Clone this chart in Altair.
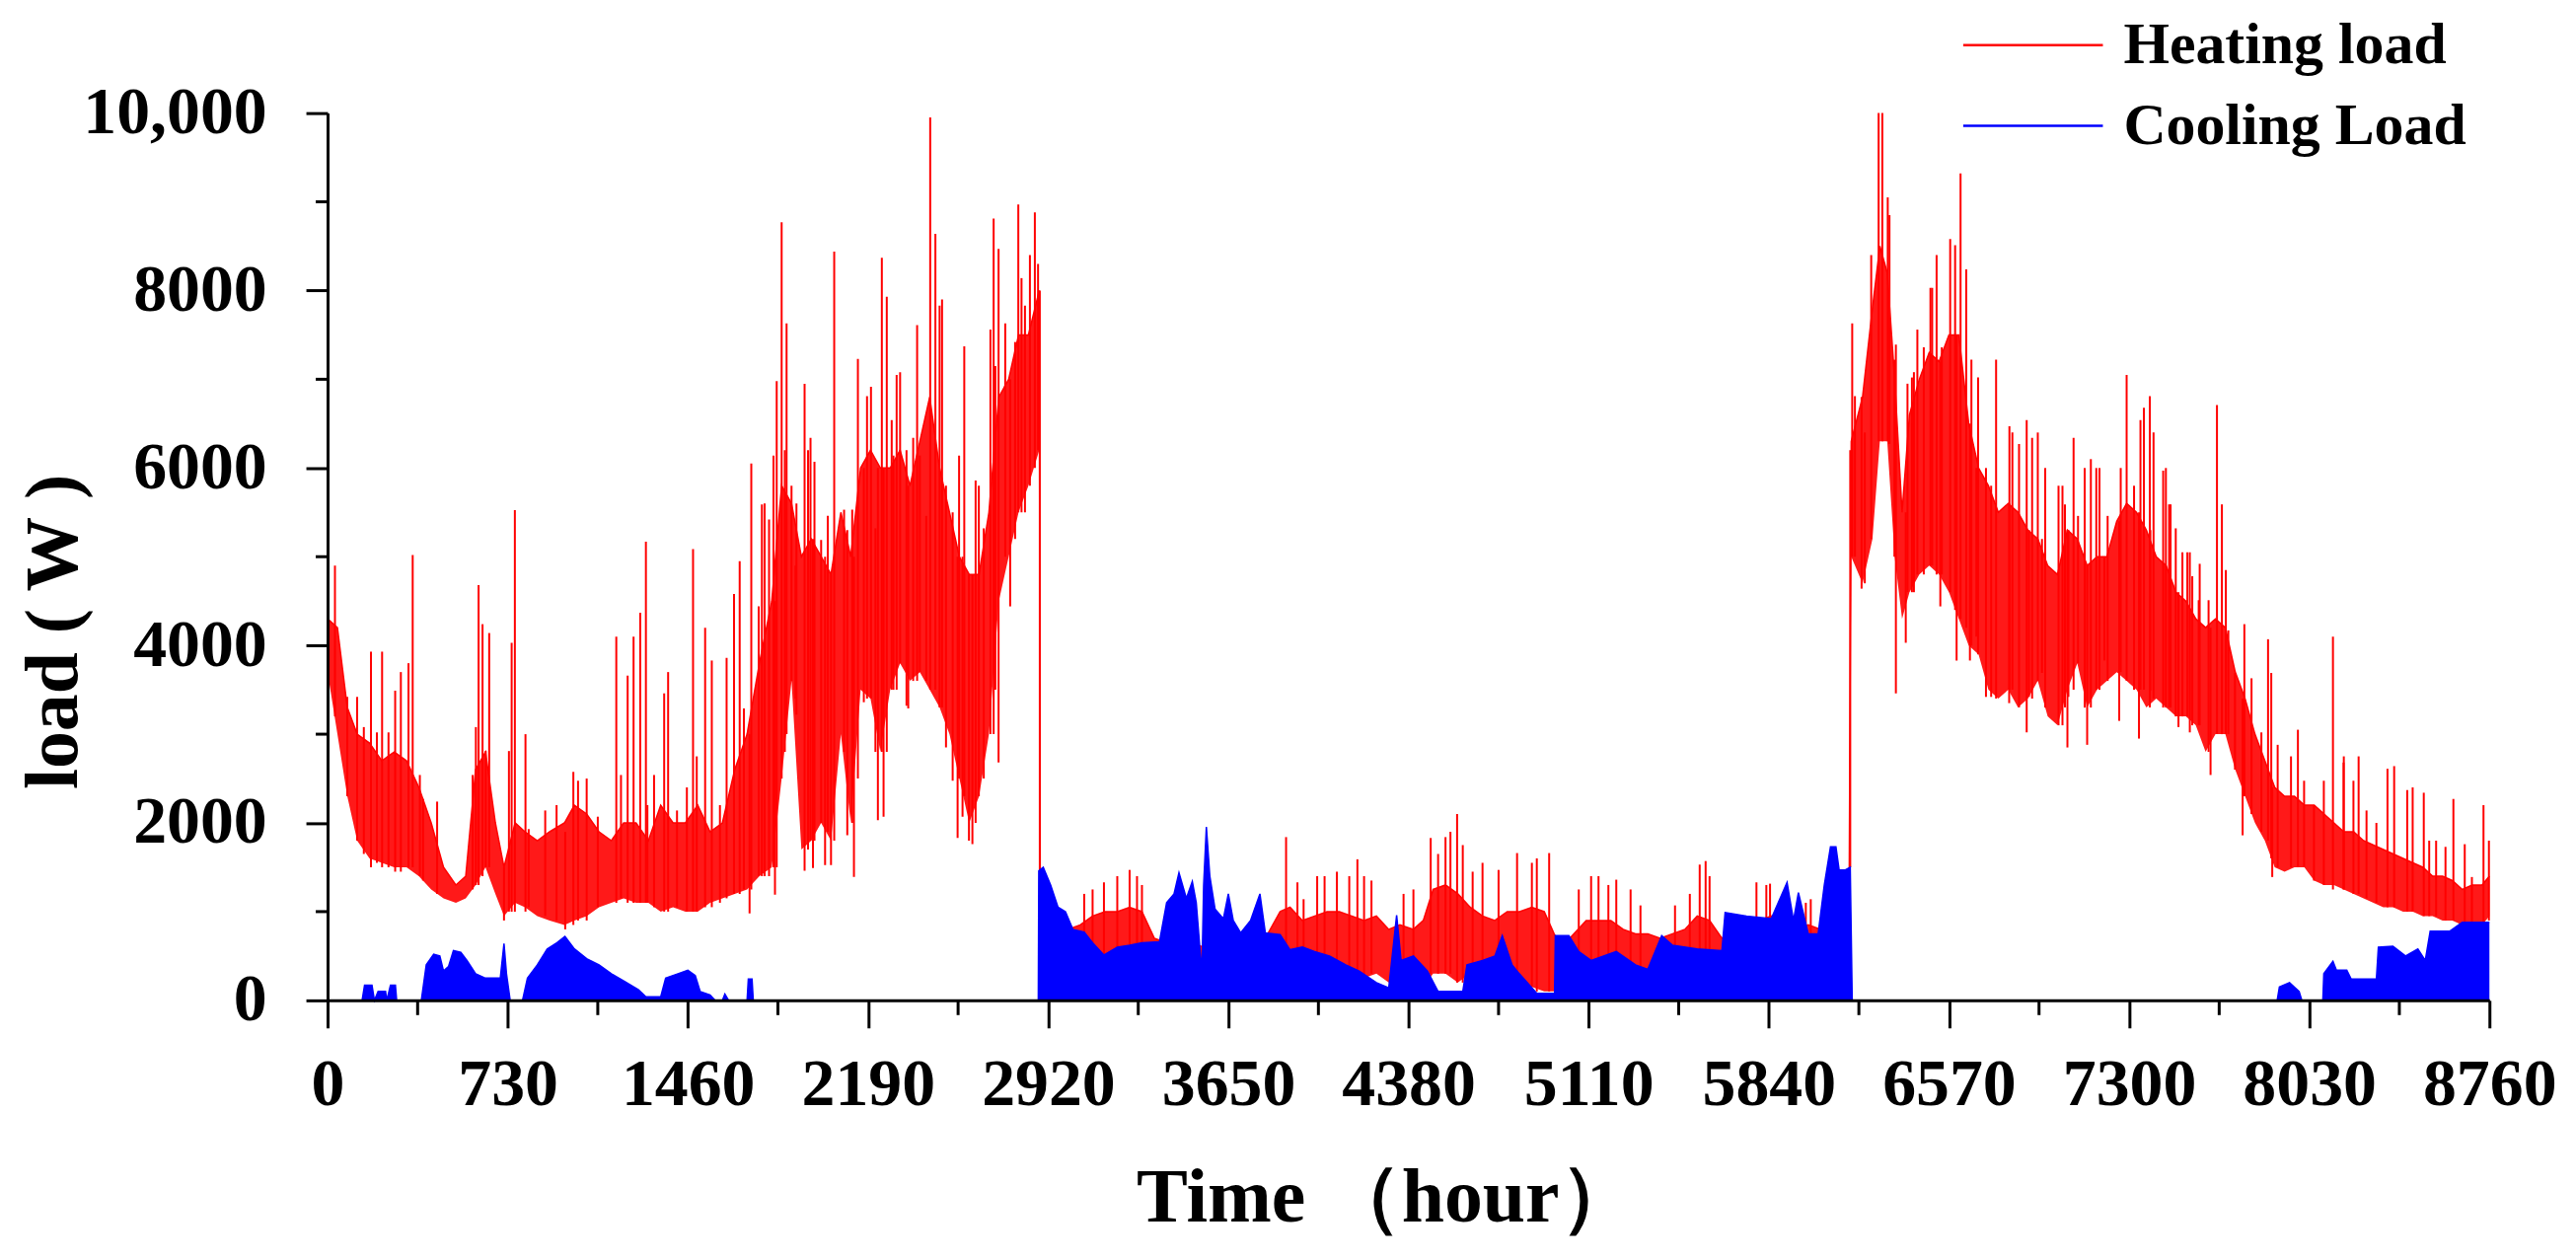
import altair as alt
import pandas as pd

# ---------------- data ----------------
x_major = [0, 730, 1460, 2190, 2920, 3650, 4380, 5110, 5840, 6570, 7300, 8030, 8760]
x_minor = [365, 1095, 1825, 2555, 3285, 4015, 4745, 5475, 6205, 6935, 7665, 8395]
y_major = [0, 2000, 4000, 6000, 8000, 10000]
y_minor = [1000, 3000, 5000, 7000, 9000]

series_names = ["Heating load", "Cooling Load"]
series_colors = ["#ff0000", "#0000ff"]

# dense core of the heating-load trace (lower / upper edge)
heat_band_t = [0, 40, 80, 120, 170, 220, 270, 320, 370, 420, 470, 520, 560, 600, 640, 680, 715, 760, 800, 850,
               900, 960, 1000, 1050, 1100, 1150, 1200, 1250, 1300, 1350, 1400, 1450, 1500, 1550, 1600, 1650,
               1700, 1750, 1800, 1840, 1880, 1920, 1960, 2000, 2040, 2080, 2120, 2160, 2200, 2240, 2280, 2320,
               2360, 2400, 2440, 2480, 2520, 2560, 2600, 2640, 2680, 2720, 2760, 2800, 2840, 2884, 2888, 2960,
               3000, 3050, 3100, 3150, 3200, 3250, 3300, 3350, 3400, 3500, 3600, 3700, 3800, 3860, 3900, 3950,
               4000, 4050, 4100, 4150, 4200, 4250, 4300, 4345, 4400, 4440, 4480, 4530, 4580, 4630, 4680, 4730,
               4780, 4830, 4880, 4930, 4970, 5000, 5050, 5100, 5150, 5200, 5250, 5300, 5350, 5400, 5450, 5500,
               5550, 5600, 5650, 5700, 5750, 5800, 5850, 5900, 5950, 6000, 6050, 6100, 6166, 6174, 6220, 6260,
               6290, 6320, 6350, 6380, 6410, 6450, 6490, 6530, 6570, 6610, 6650, 6690, 6730, 6770, 6810, 6850,
               6890, 6930, 6970, 7010, 7050, 7090, 7130, 7170, 7210, 7250, 7290, 7330, 7370, 7410, 7450, 7490,
               7530, 7570, 7610, 7650, 7690, 7730, 7770, 7810, 7850, 7890, 7930, 7970, 8010, 8050, 8090, 8130,
               8170, 8210, 8250, 8290, 8330, 8370, 8410, 8450, 8490, 8530, 8570, 8610, 8650, 8690, 8730, 8760]
heat_band_lo = [3700, 3000, 2300, 1800, 1600, 1550, 1500, 1500, 1400, 1250, 1150, 1100, 1150, 1300, 1500, 1200, 950, 1100, 1050, 950,
                900, 850, 900, 950, 1050, 1100, 1150, 1100, 1100, 1000, 1050, 1000, 1000, 1100, 1150, 1200,
                1250, 1400, 1500, 2500, 3600, 1700, 1800, 2000, 1800, 3000, 2000, 3500, 3400, 2800, 3500, 3800,
                3600, 3700, 3500, 3300, 3000, 2500, 2000, 2300, 3000, 4500, 5000, 5500, 5800, 6200, 700, 600,
                500, 500, 400, 450, 400, 400, 350, 400, 300, 300, 200, 200, 250, 300, 300, 250,
                300, 300, 300, 250, 250, 300, 200, 100, 100, 150, 300, 300, 200, 300, 250, 300,
                200, 200, 150, 100, 100, 100, 150, 150, 200, 150, 200, 200, 200, 250, 250, 300,
                300, 350, 400, 400, 450, 500, 500, 500, 500, 500, 500, 600, 800, 5000, 4700, 5200,
                6300, 6300, 5000, 4300, 4600, 4800, 4900, 4800, 4600, 4300, 4000, 3900, 3500, 3400, 3500, 3300,
                3400, 3600, 3200, 3100, 3500, 3800, 3300, 3500, 3600, 3700, 3600, 3500, 3300, 3400, 3300, 3200,
                3200, 3100, 2800, 3000, 3000, 2600, 2300, 2000, 1800, 1500, 1450, 1500, 1500, 1350, 1300, 1300,
                1250, 1200, 1150, 1100, 1050, 1050, 1000, 1000, 950, 950, 900, 900, 850, 850, 850, 950]
heat_band_hi = [4300, 4200, 3300, 3000, 2900, 2700, 2800, 2700, 2400, 2000, 1500, 1300, 1400, 2600, 2800, 2000, 1500, 2000, 1900, 1800,
                1900, 2000, 2200, 2100, 1900, 1800, 2000, 2000, 1800, 2200, 2000, 2000, 2200, 1900, 2000, 2600,
                3000, 3800, 4500, 5800, 5600, 5000, 5200, 5000, 4800, 5500, 5000, 6000, 6200, 6000, 6000, 6200,
                5800, 6300, 6800, 6000, 5500, 5000, 4800, 4800, 5500, 6800, 7000, 7500, 7500, 8000, 1000, 850,
                800, 850, 950, 1000, 1000, 1050, 1000, 700, 650, 650, 550, 650, 700, 1000, 1050, 900,
                950, 1000, 1000, 950, 900, 950, 800, 850, 800, 900, 1250, 1300, 1200, 1050, 950, 900,
                1000, 1000, 1050, 1000, 750, 600, 750, 900, 900, 900, 800, 750, 750, 700, 750, 800,
                950, 900, 700, 800, 850, 900, 950, 800, 800, 850, 800, 950, 1400, 6300, 6800, 7800,
                8500, 8200, 7000, 5500, 6600, 7000, 7300, 7200, 7500, 7500, 6500, 6000, 5800, 5500, 5600, 5500,
                5300, 5200, 4900, 4800, 5300, 5200, 4900, 5000, 5000, 5400, 5600, 5500, 5300, 5000, 4900, 4600,
                4500, 4300, 4200, 4300, 4200, 3700, 3400, 3000, 2700, 2400, 2300, 2300, 2200, 2200, 2100, 2000,
                1900, 1900, 1800, 1750, 1700, 1650, 1600, 1550, 1500, 1400, 1400, 1350, 1250, 1300, 1300, 1400]

# isolated heating spikes / dips: hour, bottom, top
heat_spike_t = [30, 176, 221, 274, 297, 328, 345, 444, 612, 628, 655, 715, 746, 759, 802, 963, 996, 1050,
                1170, 1216, 1240, 1267, 1290, 1364, 1380, 1481, 1530, 1557, 1617, 1647, 1670, 1687, 1710,
                1717, 1771, 1789, 1813, 1820, 1840, 1860, 1900, 1933, 1957, 1973, 2040, 2053, 2133, 2149,
                2186, 2202, 2230, 2246, 2266, 2306, 2320, 2346, 2389, 2442, 2463, 2490, 2580, 2613, 2626,
                2699, 2719, 2766, 2799, 2866, 2879, 2886,
                3066, 3100, 3146, 3200, 3250, 3280, 3300, 3884, 3930, 3955, 4010, 4040, 4090, 4140, 4173,
                4200, 4230, 4360, 4400, 4470, 4500, 4530, 4550, 4577, 4600, 4640, 4680, 4745, 4820, 4880,
                4900, 4950, 5070, 5120, 5150, 5190, 5222, 5280, 5320, 5460, 5520, 5560, 5584, 5600, 5790,
                5830, 5845, 5990, 6010, 6170,
                6178, 6255, 6285, 6300, 6322, 6355, 6395, 6420, 6442, 6495, 6520, 6575, 6617, 6640, 6655,
                6720, 6761, 6815, 6885, 6930, 7030, 7050, 7075, 7130, 7145, 7180, 7260, 7290, 7360, 7384,
                7438, 7468, 7500, 7536, 7630, 7656, 7676, 7760, 7767, 7863, 7880, 7984, 8126, 8170, 8230,
                8347, 8374, 8427, 8494, 8544, 8614, 8660, 8736, 8758]
heat_spike_lo = [3200, 1500, 1500, 1450, 1450, 1500, 1500, 1200, 1300, 1400, 1500, 900, 1000, 1000, 1000, 800, 850, 900,
                 1100, 1100, 1100, 1100, 1100, 1000, 1000, 1000, 1050, 1050, 1150, 1200, 1200, 1250, 980,
                 1250, 1400, 1400, 1190, 1500, 2500, 3000, 3220, 1460, 1800, 1800, 1525, 1800, 1390, 2500,
                 3400, 3400, 2030, 2800, 2800, 3500, 3800, 3320, 3600, 3500, 3500, 3300, 2300, 1760, 2000,
                 3000, 2680, 4440, 5500, 6000, 6200, 900,
                 400, 400, 450, 400, 400, 350, 350, 300, 250, 250, 300, 300, 300, 250, 250,
                 250, 300, 100, 100, 300, 300, 300, 300, 200, 200, 300, 250, 300, 200, 150,
                 100, 100, 150, 200, 200, 150, 150, 200, 200, 250, 300, 300, 350, 350, 450,
                 500, 500, 500, 500, 1500,
                 5000, 5200, 6300, 6300, 6300, 3460, 4030, 4600, 4800, 4900, 4800, 4600, 4300, 4200, 3830,
                 3420, 3400, 3500, 3020, 3600, 3100, 2850, 3500, 2880, 3300, 3500, 3150, 3600, 3500, 3300,
                 3300, 3300, 3080, 3200, 2540, 3000, 3000, 1860, 2300, 1800, 1390, 1500, 1250, 1250, 1200,
                 1050, 1050, 1000, 950, 950, 900, 850, 850, 900]
heat_spike_hi = [4900, 3930, 3930, 3490, 3700, 3800, 5020, 2240, 4680, 4240, 4140, 1500, 4030, 5525, 3000, 1900, 2575, 2500,
                 4100, 3660, 4100, 4370, 5170, 3460, 3700, 5085, 4200, 3830, 3860, 4580, 4950, 3290, 3000,
                 6050, 5600, 5420, 4500, 6980, 8770, 7630, 5600, 6950, 6340, 6070, 4800, 8440, 5000, 7230,
                 6810, 6915, 6000, 8370, 7930, 7050, 7080, 6200, 7610, 9950, 8640, 7900, 7370, 4800, 5860,
                 8810, 8470, 7000, 8970, 8880, 8300, 8000,
                 1200, 1250, 1330, 1400, 1470, 1400, 1300, 1840, 1330, 1140, 1400, 1400, 1450, 1400, 1590,
                 1400, 1350, 1200, 1250, 1830, 1650, 1840, 1900, 2100, 1750, 1450, 1550, 1470, 1660, 1550,
                 1600, 1660, 1250, 1400, 1400, 1300, 1360, 1250, 1070, 1070, 1200, 1530, 1570, 1400, 1330,
                 1300, 1315, 1100, 1140, 6200,
                 7630, 8400, 10000, 10000, 9050, 7390, 5500, 7020, 7560, 8030, 8400, 8580, 9320, 8240, 6500,
                 6000, 7220, 6470, 6540, 6400, 5800, 5300, 6340, 4900, 6100, 6000, 5400, 7050, 6680, 6810,
                 5970, 5590, 4600, 5050, 4200, 6710, 5590, 3400, 4240, 4070, 2400, 3050, 4100, 2750, 2750,
                 2610, 2640, 2370, 2340, 1800, 2270, 1760, 2200, 1800]

# smaller daily swings inside the dense heating mass: hour, bottom, top
heat_tex_t = [80, 120, 147, 200, 247, 374, 387, 588, 601, 641, 735, 815, 882, 928, 1015, 1095, 1189, 1296,
              1323, 1416, 1456, 1496, 1590, 1747, 1760, 1807, 1853, 1880, 1896, 1947, 1967, 2000, 2016, 2027,
              2093, 2106, 2126, 2173, 2220, 2253, 2286, 2293, 2353, 2373, 2400, 2426, 2480, 2506, 2533, 2553,
              2559, 2573, 2599, 2639, 2659, 2686, 2706, 2746, 2786, 2812, 2826, 2846,
              6189, 6216, 6229, 6329, 6349, 6402, 6428, 6468, 6502, 6535, 6541, 6595, 6601, 6661, 6681, 6688,
              6741, 6814, 6827, 6854, 6894, 6907, 6947, 6960, 7014, 7040, 7054, 7093, 7120, 7167, 7200, 7213,
              7266, 7320, 7340, 7346, 7386, 7399, 7449, 7462, 7489, 7516, 7546, 7556, 7582, 7586, 7622, 7692,
              7702, 7729, 7796, 7836, 7876, 7902, 7956, 8009, 8049, 8089, 8169, 8209, 8262, 8302, 8449, 8516,
              8582, 8689]
heat_tex_lo = [2300, 1800, 1650, 1550, 1500, 1400, 1350, 1250, 1300, 1500, 1000, 1050, 950, 900, 900, 1050, 1150, 1100,
               1050, 1050, 1000, 1000, 1100, 1400, 1400, 1500, 2800, 3600, 3400, 1700, 1490, 2000, 1525, 1900,
               2800, 1860, 2000, 3360, 2800, 2070, 3500, 3500, 3290, 3600, 3700, 3600, 3300, 2850, 2475, 1830,
               2500, 2070, 1800, 2300, 2500, 3000, 3500, 5000, 5200, 5500, 5500, 5800,
               5000, 4640, 4700, 6270, 5000, 4600, 4600, 4800, 4900, 4440, 4800, 4400, 3830, 4000, 4100, 3900,
               3420, 3350, 3500, 3300, 3420, 3400, 3690, 3300, 3100, 3300, 3420, 3800, 3300, 3500, 3830, 3600,
               3700, 3500, 2950, 3500, 3490, 3400, 3300, 3300, 3200, 3200, 3020, 3100, 3100, 3100, 2800, 3000,
               3000, 2600, 2100, 1900, 1600, 1500, 1500, 1500, 1350, 1300, 1250, 1200, 1150, 1100, 1000, 950,
               900, 850]
heat_tex_hi = [3420, 3420, 3080, 3020, 3020, 2540, 2270, 2540, 3080, 2810, 2810, 1930, 2140, 2200, 2475, 2070, 2540, 2200,
               2540, 2140, 2400, 2750, 2200, 4440, 5590, 6140, 6200, 5800, 4900, 6200, 5200, 5190, 5000, 5460,
               5530, 5300, 5530, 6000, 5320, 6000, 6540, 6140, 5800, 6340, 6140, 5460, 7830, 5800, 5500, 5000,
               6140, 5000, 4800, 5800, 5320, 7560, 7150, 7630, 7420, 8140, 7830, 8400,
               6810, 6800, 6400, 8850, 7220, 6950, 7080, 7360, 8030, 7200, 7360, 8510, 7500, 7220, 6000, 7020,
               5800, 5600, 6400, 6270, 5300, 6340, 5200, 6000, 5800, 5590, 5300, 5460, 6000, 6000, 5000, 5460,
               6000, 5800, 5500, 6540, 5300, 6400, 6000, 5590, 5320, 5050, 5050, 4780, 4510, 4920, 4510, 4850,
               4170, 3690, 3630, 3020, 3690, 2880, 2750, 2475, 2200, 2475, 2680, 2475, 2140, 2000, 2400, 1800,
               1730, 1390]

# cooling-load upper edge
cool_t = [0, 140, 150, 180, 190, 205, 235, 240, 255, 275, 280, 380, 400, 430, 455, 470, 490, 510, 540, 565,
          600, 640, 700, 715, 725, 740, 790, 810, 850, 890, 930, 962, 1000, 1050, 1100, 1150, 1200, 1260,
          1290, 1350, 1370, 1420, 1460, 1490, 1510, 1550, 1570, 1600, 1610, 1625, 1700, 1705, 1720, 1725,
          2880, 2882, 2900, 2930, 2960, 2990, 3020, 3066, 3100, 3146, 3200, 3250, 3300, 3371, 3400, 3430,
          3450, 3480, 3504, 3520, 3543, 3550, 3561, 3575, 3596, 3630, 3650, 3670, 3700, 3740, 3778, 3800,
          3860, 3900, 3950, 4000, 4060, 4126, 4180, 4250, 4300, 4332, 4350, 4400, 4457, 4500, 4600, 4617,
          4680, 4730, 4760, 4800, 4829, 4900, 4972, 4975, 5030, 5070, 5120, 5222, 5300, 5350, 5406, 5450,
          5550, 5650, 5663, 5750, 5850, 5914, 5940, 5960, 6000, 6040, 6065, 6090, 6112, 6125, 6150, 6170,
          6178, 7900, 7909, 7950, 7989, 8000, 8085, 8089, 8126, 8140, 8182, 8200, 8302, 8310, 8369, 8420,
          8470, 8500, 8520, 8600, 8650, 8760]
cool_v = [0, 0, 170, 170, 0, 100, 100, 0, 170, 170, 0, 0, 400, 520, 500, 330, 380, 560, 540, 450,
          300, 250, 250, 640, 300, 0, 0, 250, 400, 580, 650, 720, 580, 470, 400, 300, 220, 120,
          40, 40, 250, 300, 340, 280, 100, 60, 0, 0, 70, 0, 0, 240, 240, 0,
          0, 1460, 1500, 1300, 1050, 1000, 800, 770, 650, 510, 600, 620, 650, 660, 1100, 1200,
          1440, 1150, 1340, 1100, 300, 1300, 1955, 1400, 1030, 920, 1200, 900, 760, 900, 1200, 760,
          740, 570, 600, 550, 500, 400, 330, 200, 140, 960, 450, 500, 330, 100, 100, 400,
          450, 500, 730, 400, 300, 80, 80, 730, 730, 550, 450, 550, 400, 350, 730, 620,
          580, 560, 990, 950, 920, 1330, 900, 1215, 750, 750, 1300, 1730, 1730, 1470, 1470, 1500,
          0, 0, 150, 200, 100, 0, 0, 300, 440, 340, 340, 240, 240, 600, 610, 500,
          580, 450, 780, 780, 880, 880]

# ---------------- tables ----------------
band_df = pd.DataFrame({"t": heat_band_t, "lo": heat_band_lo, "hi": heat_band_hi})
spike_df = pd.concat([
    pd.DataFrame({"t": heat_spike_t, "lo": heat_spike_lo, "hi": heat_spike_hi}),
    pd.DataFrame({"t": heat_tex_t, "lo": heat_tex_lo, "hi": heat_tex_hi}),
], ignore_index=True)
spike_df["series"] = series_names[0]
cool_df = pd.DataFrame({"t": cool_t, "v": cool_v})
cool_df["series"] = series_names[1]
xminor_df = pd.DataFrame({"t": x_minor})
yminor_df = pd.DataFrame({"v": y_minor})

W, H = 2198, 902
FONT = "Liberation Serif"

xs = alt.Scale(domain=[0, 8760], nice=False, zero=False)
ys = alt.Scale(domain=[0, 10000], nice=False)
cs = alt.Scale(domain=series_names, range=series_colors)

x_axis = alt.Axis(values=x_major, format="d", title="Time （hour）", labelFlush=False, labelOverlap=False,
                  labelLimit=500, labelPadding=24, tickSize=28, titleAlign="left", titleX=822, titleY=224,
                  titleBaseline="alphabetic", titleFontSize=78, titleLimit=2000, zindex=1)
y_axis = alt.Axis(values=y_major, title="load ( W )",
                  labelExpr="datum.value >= 10000 ? '10,000' : '' + datum.value",
                  labelLimit=500, labelPadding=40, tickSize=22, titleAngle=270, titleAlign="center",
                  titleBaseline="alphabetic", titleX=-255, titleY=527, titleFontSize=76, titleLimit=2000,
                  zindex=1)

X = alt.X("t:Q", scale=xs, axis=x_axis)


def Y(field):
    return alt.Y(f"{field}:Q", scale=ys, axis=y_axis)


# wide flat custom stroke symbol: 4 units wide inside the unit box -> line twice sqrt(size) long
legend = alt.Legend(title=None, orient="none", legendX=1697, legendY=-106, padding=0,
                    symbolType="M-2,0L2,0", symbolSize=5041, symbolStrokeWidth=2.5,
                    labelFont=FONT, labelFontSize=60, labelFontWeight="bold", labelColor="black",
                    labelOffset=55, labelLimit=1000, rowPadding=15)

band = alt.Chart(band_df).mark_area(color="#ff0000", opacity=0.9, interpolate="linear").encode(
    x=X, y=Y("lo"), y2="hi")
band_edge = alt.Chart(band_df).mark_line(color="#ff0000", strokeWidth=1.5).encode(x=X, y=Y("hi"))
spikes = alt.Chart(spike_df).mark_rule(strokeWidth=2).encode(
    x=X, y=Y("lo"), y2="hi", color=alt.Color("series:N", scale=cs, legend=legend))
cool_area = alt.Chart(cool_df).mark_area(color="#0000ff", interpolate="linear").encode(x=X, y=Y("v"))
cool_line = alt.Chart(cool_df).mark_line(strokeWidth=1.5).encode(
    x=X, y=Y("v"), color=alt.Color("series:N", scale=cs, legend=legend))
xminor = alt.Chart(xminor_df).mark_rule(color="black", strokeWidth=3).encode(
    x=X, y=alt.value(H), y2=alt.value(H + 15))
yminor = alt.Chart(yminor_df).mark_rule(color="black", strokeWidth=3).encode(
    y=Y("v"), x=alt.value(0), x2=alt.value(-12))

chart = alt.layer(band, band_edge, spikes, cool_area, cool_line, xminor, yminor).properties(
    width=W, height=H,
    autosize=alt.AutoSizeParams(type="none"),
    padding={"left": 325, "top": 105, "right": 80, "bottom": 255},
    background="white",
).configure_view(stroke=None).configure_axis(
    grid=False, domainColor="black", domainWidth=3, tickColor="black", tickWidth=3,
    labelFont=FONT, labelFontSize=68, labelFontWeight="bold", labelColor="black",
    titleFont=FONT, titleFontWeight="bold", titleColor="black",
)

chart.save("out.html", embed_options={"renderer": "svg", "actions": False})
